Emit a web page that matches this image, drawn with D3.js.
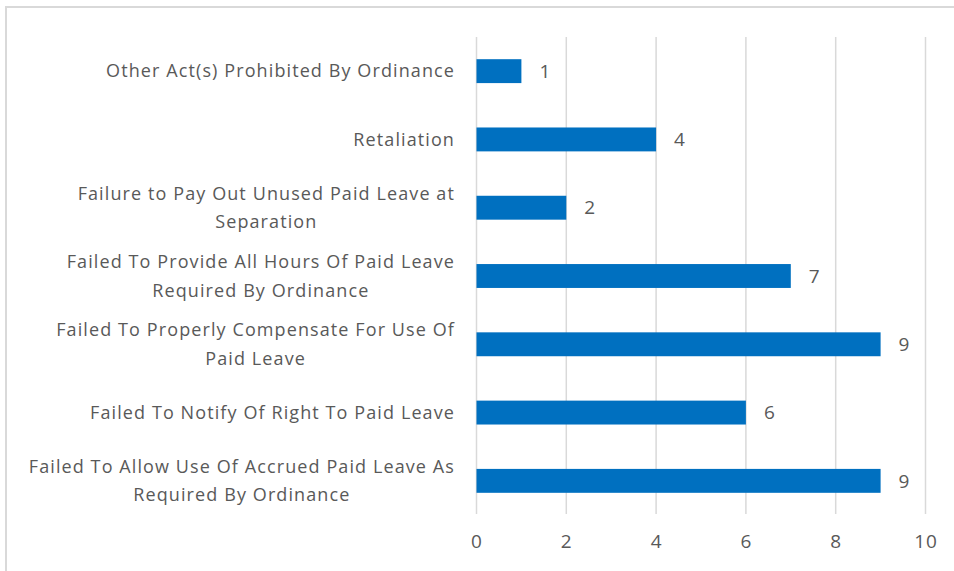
<!DOCTYPE html>
<html>
<head>
<meta charset="utf-8">
<script src="https://cdn.jsdelivr.net/npm/d3@7"></script>
<style>
  body { margin: 0; background: #fff; }
  svg text { font-family: "Open Sans", sans-serif; fill: #595959; }
</style>
</head>
<body>
<script>
// categories, top to bottom ("\n" = line break as in the original)
const categories = [
  "Other Act(s) Prohibited By Ordinance",
  "Retaliation",
  "Failure to Pay Out Unused Paid Leave at\nSeparation",
  "Failed To Provide All Hours Of Paid Leave\nRequired By Ordinance",
  "Failed To Properly Compensate For Use Of\nPaid Leave",
  "Failed To Notify Of Right To Paid Leave",
  "Failed To Allow Use Of Accrued Paid Leave As\nRequired By Ordinance"
]
const counts = [1, 4, 2, 7, 9, 6, 9]
const xTicks = [0, 2, 4, 6, 8, 10]

const width = 954
const height = 571

const svg = d3.select("body")
  .append("svg")
  .attr("width", width)
  .attr("height", height)

// chart frame (runs off right and bottom)
svg.append("rect")
  .attr("x", 6)
  .attr("y", 7)
  .attr("width", 1000)
  .attr("height", 600)
  .attr("fill", "none")
  .attr("stroke", "#d9d9d9")
  .attr("stroke-width", 2)

const x = d3.scaleLinear()
  .domain([0, 10])
  .range([476.5, 925.5])

const y = d3.scaleBand()
  .domain(categories)
  .range([37, 515])
  .paddingInner(0.65)
  .paddingOuter(0.325)

// gridlines
svg.append("g")
  .selectAll("line")
  .data(xTicks)
  .enter()
  .append("line")
  .attr("x1", d => x(d))
  .attr("x2", d => x(d))
  .attr("y1", 37)
  .attr("y2", 514)
  .attr("stroke", "#d9d9d9")
  .attr("stroke-width", 1.5)

// x axis labels
const xAxis = d3.axisBottom(x)
  .tickValues(xTicks)
  .tickSize(0)
  .tickPadding(0)
const gX = svg.append("g")
  .attr("transform", "translate(0,534)")
  .call(xAxis)
gX.select(".domain").remove()
gX.selectAll("text")
  .attr("dy", "0.71em")
  .style("font-size", "19px")
  .style("font-family", "'Open Sans', sans-serif")
  .style("letter-spacing", "1px")
  .attr("fill", "#595959")

// bars
svg.selectAll(".bar")
  .data(categories)
  .enter()
  .append("rect")
  .attr("class", "bar")
  .attr("x", x(0))
  .attr("y", d => y(d))
  .attr("width", (d, i) => x(counts[i]) - x(0))
  .attr("height", y.bandwidth())
  .attr("fill", "#0070c0")

// value labels
svg.selectAll(".val")
  .data(categories)
  .enter()
  .append("text")
  .attr("class", "val")
  .attr("x", (d, i) => x(counts[i]) + 18)
  .attr("y", d => y(d) + y.bandwidth() / 2)
  .attr("dy", "0.35em")
  .style("font-size", "19px")
  .text((d, i) => counts[i])

// category labels
const lineH = 28.5
const labels = svg.selectAll(".cat")
  .data(categories)
  .enter()
  .append("text")
  .attr("class", "cat")
  .attr("text-anchor", "middle")
  .style("font-size", "18px")
  .style("letter-spacing", "1.1px")
labels.each(function(d) {
  const lines = d.split("\n")
  const cy = y(d) + y.bandwidth() / 2
  const t = d3.select(this)
  lines.forEach((ln, k) => {
    t.append("tspan")
      .attr("x", 0)
      .attr("y", cy + (k - (lines.length - 1) / 2) * lineH)
      .attr("dy", "0.35em")
      .text(ln)
  })
})
// right-align the block of each label at x=455, lines centred within it
labels.each(function() {
  const bb = this.getBBox()
  d3.select(this).attr("transform", "translate(" + (455 - bb.width / 2) + ",0)")
})
</script>
</body>
</html>
